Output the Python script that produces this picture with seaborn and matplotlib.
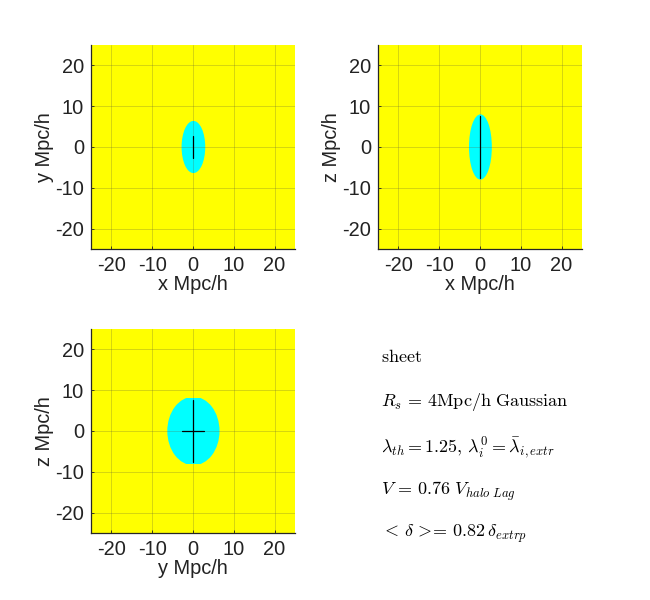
import numpy as np
import pandas as pd
import seaborn as sns
import matplotlib.pyplot as plt
from matplotlib.patches import Ellipse, Rectangle

# panel data, all in Mpc/h
x_labels = ["x Mpc/h", "x Mpc/h", "y Mpc/h"]
y_labels = ["y Mpc/h", "z Mpc/h", "z Mpc/h"]
semi_x = [2.9, 2.8, 6.4]
semi_y = [6.4, 8.0, 8.4]
cut_y = [6.4, 8.0, 8.0]   # third blob has flat top and bottom
h_arms = [(0, 0), (0, 0), (-2.7, 2.6)]
v_arms = [(-2.6, 2.7), (-7.6, 7.6), (-7.6, 7.5)]
ticks = [-20, -10, 0, 10, 20]
notes = [
    r"$\mathrm{sheet}$",
    r"$R_s\,=\,4\mathrm{Mpc/h\ Gaussian}$",
    r"$\lambda_{th}=1.25,\,\lambda_i^0=\bar{\lambda}_{i,extr}$",
    r"$V\,=\,0.76\,\,V_{halo\ Lag}$",
    r"$<\,\delta\,>\!\!=\,0.82\,\delta_{extrp}$",
]

sns.set_theme(style="ticks")
plt.rcParams["font.family"] = ["Liberation Sans", "DejaVu Sans"]
plt.rcParams["mathtext.fontset"] = "cm"
plt.rcParams["axes.unicode_minus"] = False

W, H = 650, 600
boxes = [(91, 45), (378, 45), (91, 329)]
SIDE = 204

fig = plt.figure(figsize=(6.5, 6.0), dpi=100, facecolor="white")

for i, (left, top) in enumerate(boxes):
    ax = fig.add_axes([left / W, 1 - (top + SIDE) / H, SIDE / W, SIDE / H])
    ax.set_facecolor("#ffff00")
    blob = Ellipse((0.1, 0), 2 * semi_x[i], 2 * semi_y[i], color="#00ffff", lw=0, zorder=1)
    ax.add_patch(blob)
    blob.set_clip_path(Rectangle((-25, -cut_y[i]), 50, 2 * cut_y[i], transform=ax.transData))

    ax.set_xlim(-25, 25)
    ax.set_ylim(-25, 25)
    ax.set_xticks(ticks)
    ax.set_yticks(ticks)
    ax.grid(True, color="#5f5f3a", alpha=0.3, lw=0.6)
    ax.set_axisbelow(False)

    hline = pd.DataFrame({"a": list(h_arms[i]), "b": [0, 0]})
    vline = pd.DataFrame({"a": [0, 0], "b": list(v_arms[i])})
    for seg in (hline, vline):
        sns.lineplot(data=seg, x="a", y="b", color="black", lw=0.9, sort=False,
                     estimator=None, ax=ax, zorder=4)

    ax.set_xlabel(x_labels[i], fontsize=14.4, labelpad=0, color="#222222")
    ax.set_ylabel(y_labels[i], fontsize=14.4, labelpad=0.5, color="#222222")
    ax.tick_params(direction="in", length=2, width=0.6, labelsize=14.4, pad=5,
                   colors="#222222")
    sns.despine(ax=ax)
    ax.spines["left"].set_linewidth(0.9)
    ax.spines["bottom"].set_linewidth(0.9)

# text block in the empty fourth slot
note_y = [358, 402, 448, 491, 534]
for s, y in zip(notes, note_y):
    fig.text(381 / W, 1 - y / H, s, fontsize=13, va="center", ha="left", color="black")

fig.savefig("out.png", dpi=100)
